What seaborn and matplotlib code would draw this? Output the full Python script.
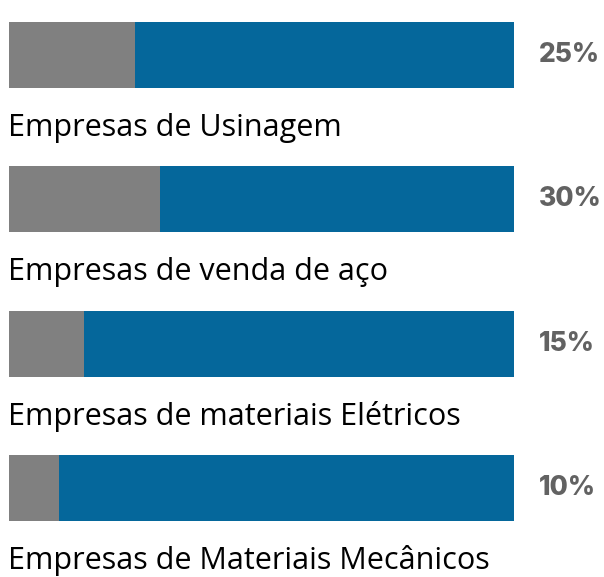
import matplotlib
matplotlib.use("Agg")
import matplotlib.pyplot as plt
import seaborn as sns

categorias = ["Empresas de Usinagem", "Empresas de venda de aço",
              "Empresas de materiais Elétricos", "Empresas de Materiais Mecânicos"]
percentuais = [25, 30, 15, 10]
total = [100, 100, 100, 100]
rotulos = ["25%", "30%", "15%", "10%"]

sns.set_style("white")
plt.rcParams['font.family'] = ['Open Sans', 'DejaVu Sans']

fig = plt.figure(figsize=(6.04, 5.77), dpi=100)
ax = fig.add_axes([8.5 / 604, 0, (514 - 8.5) / 604, 1])

sns.barplot(x=total, y=categorias, orient='h', color='#05679b', width=0.457,
            saturation=1, linewidth=0, ax=ax)
sns.barplot(x=percentuais, y=categorias, orient='h', color='#808080', width=0.457,
            saturation=1, linewidth=0, ax=ax)

for i, (cat, lab) in enumerate(zip(categorias, rotulos)):
    ax.text(0, i + 0.506, cat, va='center', ha='left', fontsize=22, color='black',
            clip_on=False)
    ax.text(104.9, i, lab, va='center', ha='left', fontsize=19, fontweight='heavy',
            color='#626262', family=['Inter', 'DejaVu Sans'], clip_on=False)

ax.set_xlim(0, 100)
ax.set_ylim(3.617, -0.381)
ax.axis('off')

fig.savefig("out.png", dpi=100)
